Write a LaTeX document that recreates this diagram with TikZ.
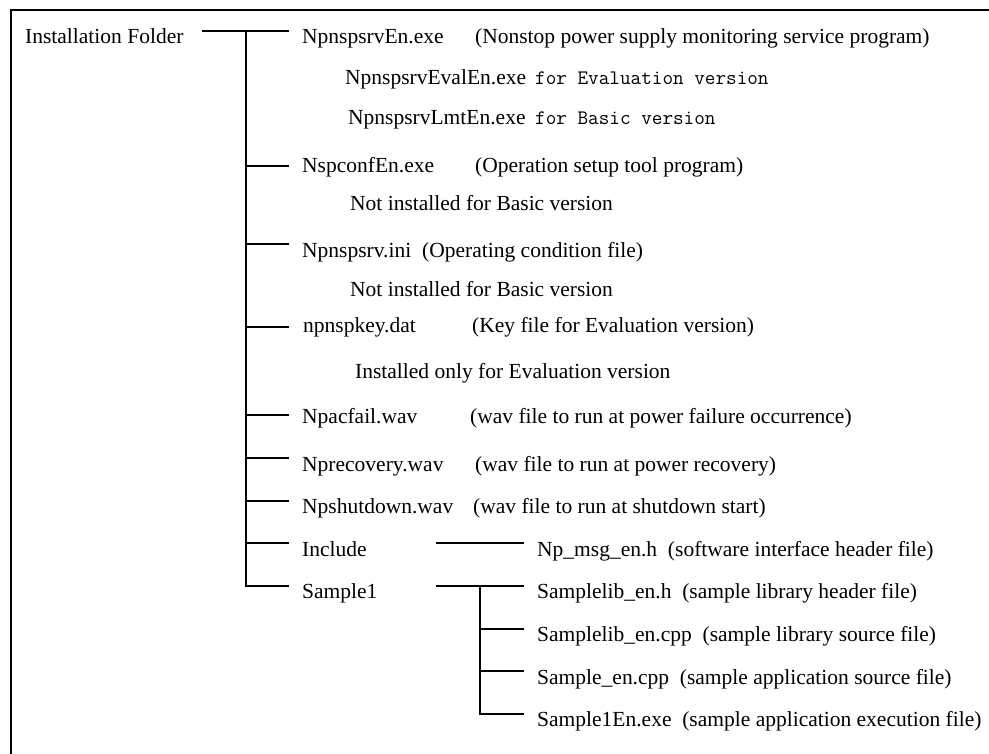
\documentclass[tikz,border=0pt]{standalone}
\usepackage{fontspec}
\setmainfont{Liberation Serif}
\begin{document}
\begin{tikzpicture}[x=1pt,y=-1pt,
  txt/.style={anchor=base west, inner sep=0pt, font=\fontsize{21.5}{24}\selectfont},
  mono/.style={anchor=base west, inner sep=0pt, font=\fontsize{20.6}{24}\selectfont\ttfamily},
  link/.style={line width=1.8pt, line cap=rect},
  frame/.style={line width=2.4pt}]
\useasboundingbox (0,0) rectangle (989,754);

% outer frame (left and top edges)
\coordinate (fTL) at (11,10);
\coordinate (fBL) at (11,760);
\coordinate (fTR) at (995,10);
\draw[frame] (fBL) -- (fTL) -- (fTR);

% root folder
\node[txt] (root) at (25,44) {Installation Folder};

% first-level entries
\node[txt] (svc)  at (302,44)  {NpnspsrvEn.exe};
\node[txt] (svcD) at (475,44)  {(Nonstop power supply monitoring service program)};
\node[txt] (eval) at (345,85)  {NpnspsrvEvalEn.exe};
\node[mono] (evalD) at (535,85) {for Evaluation version};
\node[txt] (lmt)  at (348,125) {NpnspsrvLmtEn.exe};
\node[mono] (lmtD) at (535,125) {for Basic version};

\node[txt] (conf)  at (302,173) {NspconfEn.exe};
\node[txt] (confD) at (475,173) {(Operation setup tool program)};
\node[txt] (confN) at (350,211) {Not installed for Basic version};

\node[txt] (ini)  at (302,258) {Npnspsrv.ini};
\node[txt] (iniD) at (422,258) {(Operating condition file)};
\node[txt] (iniN) at (350,297) {Not installed for Basic version};

\node[txt] (key)  at (303,333) {npnspkey.dat};
\node[txt] (keyD) at (472,333) {(Key file for Evaluation version)};
\node[txt] (keyN) at (355,378) {Installed only for Evaluation version};

\node[txt] (fail)  at (302,423) {Npacfail.wav};
\node[txt] (failD) at (470,423) {(wav file to run at power failure occurrence)};
\node[txt] (rec)   at (302,471) {Nprecovery.wav};
\node[txt] (recD)  at (475,471) {(wav file to run at power recovery)};
\node[txt] (shut)  at (302,513) {Npshutdown.wav};
\node[txt] (shutD) at (473,513) {(wav file to run at shutdown start)};
\node[txt] (inc)   at (302,556) {Include};
\node[txt] (smp)   at (302,598) {Sample1};

% second-level entries
\node[txt] (msg)  at (537,556) {Np\_msg\_en.h\ \ (software interface header file)};
\node[txt] (libh) at (537,598) {Samplelib\_en.h\ \ (sample library header file)};
\node[txt] (libc) at (537,641) {Samplelib\_en.cpp\ \ (sample library source file)};
\node[txt] (appc) at (537,684) {Sample\_en.cpp\ \ (sample application source file)};
\node[txt] (appe) at (537,726) {Sample1En.exe\ \ (sample application execution file)};

% main trunk and its branches
\coordinate (rootL) at (203,31);
\coordinate (tTop)  at (246,31);
\coordinate (bSvc)  at (288,31);
\coordinate (tConf) at (246,166);  \coordinate (bConf) at (288,166);
\coordinate (tIni)  at (246,244);  \coordinate (bIni)  at (288,244);
\coordinate (tKey)  at (246,327);  \coordinate (bKey)  at (288,327);
\coordinate (tFail) at (246,415);  \coordinate (bFail) at (288,415);
\coordinate (tRec)  at (246,458);  \coordinate (bRec)  at (288,458);
\coordinate (tShut) at (246,501);  \coordinate (bShut) at (288,501);
\coordinate (tInc)  at (246,543);  \coordinate (bInc)  at (288,543);
\coordinate (tSmp)  at (246,586);  \coordinate (bSmp)  at (288,586);

\draw[link] (rootL) -- (bSvc);
\draw[link] (tTop) -- (tSmp);
\foreach \a/\b in {tConf/bConf,tIni/bIni,tKey/bKey,tFail/bFail,tRec/bRec,tShut/bShut,tInc/bInc,tSmp/bSmp}
  \draw[link] (\a) -- (\b);

% Include subtree
\coordinate (incL) at (437,543);
\coordinate (incR) at (523,543);
\draw[link] (incL) -- (incR);

% Sample1 subtree
\coordinate (smpL) at (437,586);
\coordinate (sTop) at (480,586);  \coordinate (bLibh) at (523,586);
\coordinate (sLibc) at (480,629); \coordinate (bLibc) at (523,629);
\coordinate (sAppc) at (480,671); \coordinate (bAppc) at (523,671);
\coordinate (sAppe) at (480,714); \coordinate (bAppe) at (523,714);
\draw[link] (smpL) -- (bLibh);
\draw[link] (sTop) -- (sAppe);
\foreach \a/\b in {sLibc/bLibc,sAppc/bAppc,sAppe/bAppe}
  \draw[link] (\a) -- (\b);
\end{tikzpicture}
\end{document}
